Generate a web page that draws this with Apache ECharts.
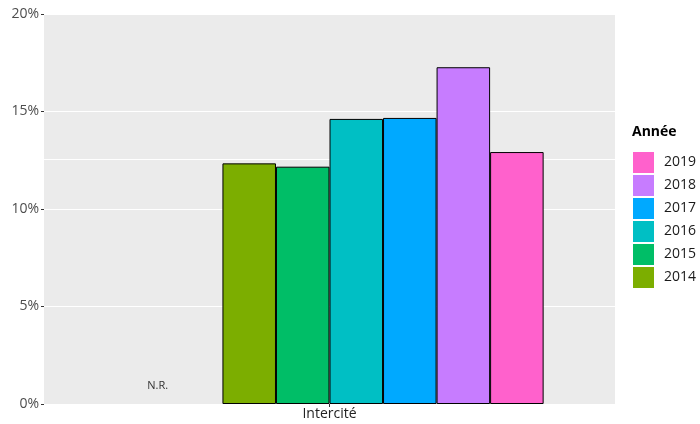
<!DOCTYPE html>
<html>
<head>
<meta charset="utf-8">
<script src="https://cdn.jsdelivr.net/npm/echarts@6/dist/echarts.min.js"></script>
<style>html,body{margin:0;padding:0;background:#fff;}#c{width:700px;height:424px;}</style>
</head>
<body>
<div id="c"></div>
<script>
var categories = ['Intercité'];
var years = ['2012', '2013', '2014', '2015', '2016', '2017', '2018', '2019'];
var colors = ['#F8766D', '#CD9600', '#7CAE00', '#00BE67', '#00BFC4', '#00A9FF', '#C77CFF', '#FF61CC'];
var values = [null, null, 12.34, 12.17, 14.62, 14.67, 17.27, 12.92];
var legendYears = ['2019', '2018', '2017', '2016', '2015', '2014'];
var yTicks = [0, 5, 10, 15, 20];
var refLine = 12.53;
var missingLabel = 'N.R.';

var FONT = '"Open Sans", Lato, sans-serif';
var chart = echarts.init(document.getElementById('c'), null, {renderer: 'canvas'});

var series = years.map(function (y, i) {
  var s = {
    name: y,
    type: 'bar',
    data: [values[i] === null ? '-' : values[i]],
    barGap: '0%',
    barCategoryGap: '25%',
    zlevel: 1,
    z: 3,
    itemStyle: {color: colors[i], borderColor: '#000', borderWidth: 1},
    emphasis: {disabled: true},
    animation: false
  };
  if (i === 0) {
    s.zlevel = 0;
    s.z = 1;
    s.markLine = {
      silent: true,
      symbol: 'none',
      label: {show: false},
      lineStyle: {color: '#ffffff', width: 1.2, type: 'solid'},
      data: [{yAxis: refLine}],
      animation: false
    };
  }
  if (i === 1) {
    s.data = [0];
    s.itemStyle = {color: 'rgba(0,0,0,0)', borderWidth: 0};
    s.label = {
      show: true,
      position: 'top',
      offset: [-38, -8],
      formatter: missingLabel,
      color: '#333',
      fontSize: 11,
      fontFamily: FONT
    };
  }
  return s;
});

chart.setOption({
  backgroundColor: '#ffffff',
  animation: false,
  grid: {
    left: 44, right: 85, top: 14, bottom: 20,
    show: true, backgroundColor: '#EBEBEB', borderWidth: 0
  },
  legend: {
    data: legendYears,
    orient: 'vertical',
    left: 628,
    top: 147,
    itemWidth: 21,
    itemHeight: 21,
    itemGap: 2,
    icon: 'rect',
    selectedMode: false,
    itemStyle: {borderWidth: 0},
    textStyle: {color: '#1a1a1a', fontSize: 14, fontFamily: FONT, padding: [0, 0, 0, 5]}
  },
  graphic: [{
    type: 'text',
    left: 632,
    top: 125,
    style: {text: 'Année', font: 'bold 14px ' + FONT, fill: '#000'}
  }],
  xAxis: {
    type: 'category',
    data: categories,
    axisLine: {show: false},
    axisTick: {show: true, alignWithLabel: true, length: 3, lineStyle: {color: '#333'}},
    axisLabel: {color: '#222', fontSize: 14, fontFamily: FONT, margin: 3},
    splitLine: {show: false}
  },
  yAxis: {
    type: 'value',
    min: yTicks[0],
    max: yTicks[yTicks.length - 1],
    interval: 5,
    axisLine: {show: false},
    axisTick: {show: true, length: 3, lineStyle: {color: '#333'}},
    axisLabel: {color: '#4D4D4D', fontSize: 14, fontFamily: FONT, margin: 5, formatter: '{value}%'},
    splitLine: {show: true, lineStyle: {color: '#ffffff', width: 1.2}}
  },
  series: series
});
</script>
</body>
</html>
